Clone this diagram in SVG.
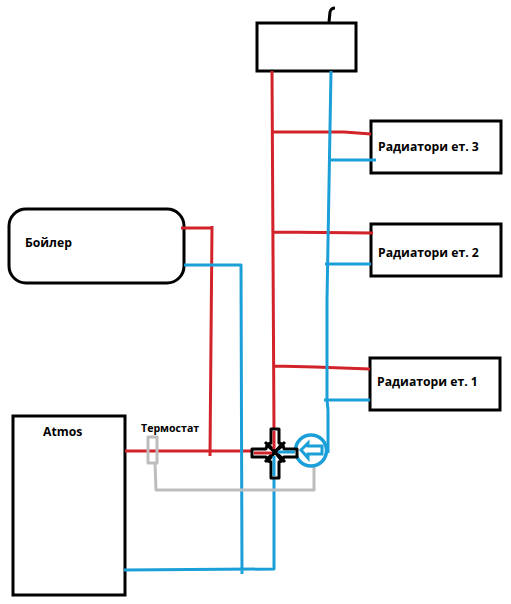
<svg xmlns="http://www.w3.org/2000/svg" width="511" height="604" viewBox="0 0 511 604">
<style>
.box{fill:#fff;stroke:#000;stroke-width:3}
.r,.b,.g,.k{fill:none;stroke-width:3;stroke-linejoin:round}
.r{stroke:#d2232a}.b{stroke:#1a9fd8}.g{stroke:#bdbdbd}.k{stroke:#000}
.ar{fill:#fff;stroke:#000;stroke-width:3;stroke-linejoin:round}
text{font-family:"Open Sans","Noto Sans",sans-serif;font-weight:700;font-size:12.2px;fill:#000}
#thermostat-label{font-size:10.6px}
</style>
<rect width="511" height="604" fill="#fff"/>
<g id="tank"><rect class="box" x="257" y="23" width="99" height="48"/><path class="k" d="M329 22L330 12Q331 8 335 8"/></g>
<g id="boiler"><rect class="box" x="9" y="209" width="175" height="74" rx="17"/><text x="25" y="247">Бойлер</text></g>
<g id="atmos"><path class="box" d="M13 416H125V595H13Z"/><text x="43" y="436">Atmos</text></g>
<g id="rad3"><rect class="box" x="371" y="121" width="130" height="52"/><text x="378" y="151">Радиатори ет. 3</text></g>
<g id="rad2"><rect class="box" x="371" y="224" width="130" height="52"/><text x="378" y="257">Радиатори ет. 2</text></g>
<g id="rad1"><rect class="box" x="370" y="358" width="130" height="52"/><text x="377" y="386">Радиатори ет. 1</text></g>
<g id="connectors">
<path class="r" d="M272 71L274 430M271 132H344L371 134M272 232L373 233M274 366L315 367L370 369"/>
<path class="r" d="M181 228H213M212 226L210 456M125 451H254"/>
<path class="b" d="M331 71L327 300V400L328 410V453M330 160H376M325 264H371M324 400H370"/>
<path class="b" d="M184 265H241L242 574M124 570L274 569V478"/>
<path class="g" d="M148 437H157V463H148ZM155 463L156 490H314V465M157 490H178"/>
</g>
<g id="pump"><circle cx="311" cy="450.500" r="15.500" fill="#fff" stroke="#1a9fd8" stroke-width="3.500"/>
<path d="M301 450L308 443V446H322V454H308V458Z" fill="#fff" stroke="#1a9fd8" stroke-width="3"/></g>
<g id="valve">
<path class="ar" d="M271 429H279V443L282 444L275 452L268 444L271 443Z"/>
<path class="ar" d="M252 449H266L267 445L275 452L267 459L266 457H252Z"/>
<path class="ar" d="M297 449H284L283 445L275 452L283 459L284 457H297Z"/>
<path class="ar" d="M271 478H279V462L282 461L275 452L268 461L271 462Z"/>
<path class="k" d="M265 442L285 462M285 442L265 462" stroke-width="2.500"/>
<path class="r" d="M254 453H272M274 431V449" stroke-width="2"/>
<path class="b" d="M278 452H295M274 456V476" stroke-width="2"/>
</g>
<text id="thermostat-label" x="141" y="432">Термостат</text>
</svg>
